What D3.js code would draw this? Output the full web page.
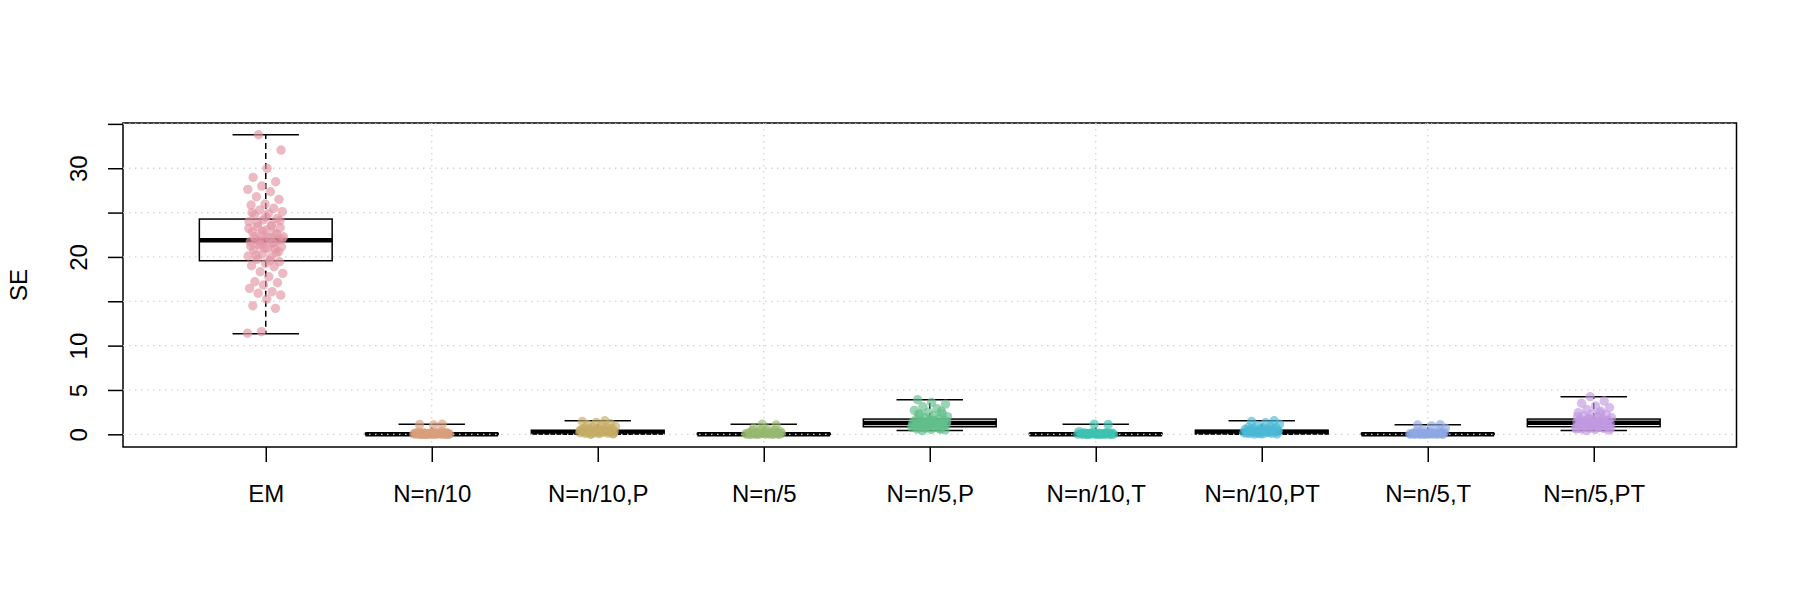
<!DOCTYPE html>
<html>
<head>
<meta charset="utf-8">
<script src="https://cdn.jsdelivr.net/npm/d3@7"></script>
<style>
  body { margin: 0; background: #fff; }
  svg { display: block; }
  text { font-family: 'Liberation Sans', Arial, Helvetica, sans-serif; }
</style>
</head>
<body>
<div id="chart"></div>
<script>
'use strict';

var categories = ['EM', 'N=n/10', 'N=n/10,P', 'N=n/5', 'N=n/5,P', 'N=n/10,T', 'N=n/10,PT', 'N=n/5,T', 'N=n/5,PT'];

// box statistics
var whiskerLow = [11.34, 0, 0, 0, 0.42, 0, 0, 0, 0.42];
var lowerHinge = [19.57, 0, 0.04, 0, 0.85, 0, 0.04, 0, 0.86];
var medians = [21.87, 0.02, 0.24, 0.02, 1.27, 0.02, 0.25, 0.02, 1.30];
var upperHinge = [24.27, 0.1, 0.46, 0.1, 1.72, 0.1, 0.46, 0.1, 1.72];
var whiskerHigh = [33.78, 1.13, 1.53, 1.13, 3.9, 1.13, 1.53, 1.08, 4.24];

var pointColors = ['#E495A5', '#D99E7C', '#C4AC66', '#97B96E', '#62BE8C', '#3DC2B0', '#4CB8D6', '#8DA8E4', '#C29AE0'];

var seEM = [33.78, 32.05, 29.99, 28.97, 28.48, 27.99, 27.62, 27.35, 26.79, 26.49, 25.97, 25.85, 25.48, 25.29,
  25.1, 24.91, 24.73, 24.35, 24.16, 23.97, 23.6, 23.41, 23.29, 23.03, 22.84, 22.66, 22.47, 22.28, 22.16, 21.98,
  21.9, 21.83, 21.71, 21.53, 21.34, 21.15, 20.97, 20.78, 20.47, 20.33, 20.1, 19.95, 19.73, 19.46, 19.28, 19.0,
  18.9, 18.33, 18.15, 17.77, 17.2, 17.09, 16.83, 16.46, 16.08, 15.9, 15.7, 15.25, 14.5, 14.2, 11.57, 11.39,
  19.6, 20.2, 20.6, 21.0, 21.2, 21.6, 21.8, 22.0, 22.1, 22.3, 22.6, 22.9, 23.2, 23.5, 23.8, 24.1, 24.5, 25.0,
  20.9, 21.4];
var seN10 = [0, 0, 0, 0, 0.01, 0.01, 0.02, 0.02, 0.03, 0.03, 0.04, 0.05, 0.05, 0.06, 0.07, 0.08, 0.09, 0.1,
  0.12, 0.14, 0.15, 0.18, 0.2, 0.22, 0.25, 0.3, 0, 0.01, 0.02, 0, 0.03, 0.05, 0.08, 0.11, 0.02, 0.04, 1.05, 1.1, 1.13];
var seN10P = [0.02, 0.05, 0.08, 0.1, 0.12, 0.15, 0.18, 0.2, 0.22, 0.25, 0.27, 0.28, 0.3, 0.32, 0.35, 0.38, 0.4,
  0.42, 0.45, 0.48, 0.5, 0.55, 0.6, 0.65, 0.7, 0.75, 0.8, 0.9, 1.0, 1.1, 1.2, 1.35, 1.45, 1.53, 0.03, 0.1, 0.2,
  0.26, 0.3, 0.36, 0.44, 0.52, 0.6];
var seN5 = [0, 0, 0.01, 0.02, 0.03, 0.05, 0.06, 0.08, 0.1, 0.12, 0.15, 0.18, 0.2, 0.25, 0.3, 0.35, 0.4, 0.45,
  0.5, 0.02, 0.04, 0.07, 0.1, 0.13, 0, 0.01, 0.03, 0.09, 0.6, 0.7, 1.05, 1.13];
var seN5P = [0.42, 0.5, 0.55, 0.6, 0.65, 0.7, 0.75, 0.8, 0.85, 0.9, 0.95, 1.0, 1.05, 1.1, 1.15, 1.2, 1.25, 1.3,
  1.35, 1.4, 1.45, 1.5, 1.55, 1.6, 1.7, 1.8, 1.9, 2.0, 2.1, 2.2, 2.35, 2.5, 2.7, 2.9, 3.1, 3.4, 3.6, 3.9, 0.6,
  0.8, 1.0, 1.2, 1.3, 1.5, 1.7, 0.9, 1.1, 1.25, 1.4, 1.6, 2.3, 2.6];
var seN10T = [0, 0, 0, 0.01, 0.01, 0.02, 0.02, 0.03, 0.04, 0.05, 0.06, 0.07, 0.08, 0.1, 0.12, 0.14, 0.16, 0.2,
  0.24, 0.3, 0, 0.01, 0.03, 0.05, 0.07, 0.09, 0.11, 0.02, 0.04, 0.06, 1.1, 1.13];
var seN10PT = [0.02, 0.04, 0.07, 0.1, 0.12, 0.15, 0.18, 0.2, 0.23, 0.25, 0.27, 0.3, 0.32, 0.35, 0.38, 0.4, 0.43,
  0.46, 0.5, 0.54, 0.58, 0.62, 0.68, 0.74, 0.8, 0.9, 1.0, 1.15, 1.3, 1.45, 1.53, 0.05, 0.15, 0.22, 0.28, 0.34,
  0.42, 0.5, 0.6];
var seN5T = [0, 0, 0.01, 0.01, 0.02, 0.03, 0.04, 0.05, 0.06, 0.08, 0.1, 0.12, 0.14, 0.17, 0.2, 0.25, 0.3, 0.36,
  0, 0.02, 0.04, 0.07, 0.09, 0.11, 0.03, 0.05, 0.5, 0.7, 0.95, 1.05, 1.08];
var seN5PT = [0.42, 0.48, 0.55, 0.6, 0.65, 0.7, 0.75, 0.8, 0.86, 0.9, 0.95, 1.0, 1.05, 1.1, 1.15, 1.2, 1.25,
  1.3, 1.35, 1.4, 1.45, 1.5, 1.55, 1.6, 1.65, 1.72, 1.8, 1.9, 2.0, 2.1, 2.2, 2.3, 2.45, 2.6, 2.8, 3.0, 3.2, 3.5,
  3.75, 4.24, 0.6, 0.8, 1.0, 1.15, 1.3, 1.45, 1.6, 1.75, 0.7, 0.9, 1.1, 1.25, 1.4, 2.0, 2.4];

var groupValues = [seEM, seN10, seN10P, seN5, seN5P, seN10T, seN10PT, seN5T, seN5PT];

var yTicks = [0, 5, 10, 15, 20, 25, 30, 35];
var yTickLabels = [0, 5, 10, 20, 30];
var xGridTicks = [2, 4, 6, 8];

var width = 1800;
var height = 600;
var plotLeft = 123;
var plotRight = 1736.5;
var plotTop = 123;
var plotBottom = 447;
var fontSize = '24px';

var svg = d3.select('#chart').append('svg')
  .attr('width', width)
  .attr('height', height);

var x = d3.scaleLinear()
  .domain([0.14, categories.length + 0.86])
  .range([plotLeft, plotRight]);

var y = d3.scaleLinear()
  .domain([-1.43, 35.1])
  .range([plotBottom, plotTop]);

var unit = x(1) - x(0);
var boxHalf = unit * 0.4;
var capHalf = boxHalf / 2;

// boxes
var boxes = svg.append('g').selectAll('g')
  .data(categories)
  .enter()
  .append('g')
  .attr('transform', function(d, i) {
    return 'translate(' + x(i + 1) + ',0)';
  });

function whisker(sel, fromArr, toArr) {
  sel.append('line')
    .attr('x1', 0)
    .attr('x2', 0)
    .attr('y1', function(d, i) { return y(fromArr[i]); })
    .attr('y2', function(d, i) { return y(toArr[i]); })
    .attr('stroke', 'black')
    .attr('stroke-width', 1.5)
    .attr('stroke-dasharray', '6,4');
}

function cap(sel, arr) {
  sel.append('line')
    .attr('x1', -capHalf)
    .attr('x2', capHalf)
    .attr('y1', function(d, i) { return y(arr[i]); })
    .attr('y2', function(d, i) { return y(arr[i]); })
    .attr('stroke', 'black')
    .attr('stroke-width', 1.5);
}

whisker(boxes, upperHinge, whiskerHigh);
whisker(boxes, lowerHinge, whiskerLow);
cap(boxes, whiskerHigh);
cap(boxes, whiskerLow);

boxes.append('rect')
  .attr('x', -boxHalf)
  .attr('width', boxHalf * 2)
  .attr('y', function(d, i) { return y(upperHinge[i]); })
  .attr('height', function(d, i) { return y(lowerHinge[i]) - y(upperHinge[i]); })
  .attr('fill', 'white')
  .attr('stroke', 'black')
  .attr('stroke-width', 1.5);

boxes.append('line')
  .attr('x1', -boxHalf)
  .attr('x2', boxHalf)
  .attr('y1', function(d, i) { return y(medians[i]); })
  .attr('y2', function(d, i) { return y(medians[i]); })
  .attr('stroke', 'black')
  .attr('stroke-width', 4.5);

// frame
svg.append('rect')
  .attr('x', plotLeft)
  .attr('y', plotTop)
  .attr('width', plotRight - plotLeft)
  .attr('height', plotBottom - plotTop)
  .attr('fill', 'none')
  .attr('stroke', 'black')
  .attr('stroke-width', 1.5);

// axes
var yAxis = d3.axisLeft(y)
  .tickValues(yTicks)
  .tickSize(15)
  .tickSizeOuter(0)
  .tickFormat(function(d) {
    return yTickLabels.indexOf(d) >= 0 ? d : '';
  });

var yg = svg.append('g')
  .attr('transform', 'translate(' + plotLeft + ',0)')
  .call(yAxis);
yg.select('.domain').remove();
yg.selectAll('line').attr('stroke', 'black').attr('stroke-width', 1.5);
yg.selectAll('text')
  .attr('transform', 'rotate(-90)')
  .attr('x', 0)
  .attr('y', -36)
  .attr('dy', 0)
  .attr('text-anchor', 'middle')
  .attr('fill', 'black')
  .style('font-size', fontSize);

var xAxis = d3.axisBottom(x)
  .tickValues(d3.range(1, categories.length + 1))
  .tickSize(15)
  .tickSizeOuter(0)
  .tickFormat(function(d) {
    return categories[d - 1];
  });

var xg = svg.append('g')
  .attr('transform', 'translate(0,' + plotBottom + ')')
  .call(xAxis);
xg.select('.domain').remove();
xg.selectAll('line').attr('stroke', 'black').attr('stroke-width', 1.5);
xg.selectAll('text')
  .attr('y', 55)
  .attr('dy', 0)
  .attr('fill', 'black')
  .style('font-size', fontSize);

svg.append('text')
  .attr('transform', 'translate(27,' + ((plotTop + plotBottom) / 2) + ') rotate(-90)')
  .attr('text-anchor', 'middle')
  .style('font-size', fontSize)
  .text('SE');

// grid
var grid = svg.append('g')
  .attr('stroke', '#D3D3D3')
  .attr('stroke-width', 1.3)
  .attr('stroke-dasharray', '1.5,4.5');

grid.selectAll('.hgrid')
  .data(yTicks)
  .enter()
  .append('line')
  .attr('x1', plotLeft)
  .attr('x2', plotRight)
  .attr('y1', function(d) { return y(d); })
  .attr('y2', function(d) { return y(d); });

grid.selectAll('.vgrid')
  .data(xGridTicks)
  .enter()
  .append('line')
  .attr('x1', function(d) { return x(d); })
  .attr('x2', function(d) { return x(d); })
  .attr('y1', plotTop)
  .attr('y2', plotBottom);

// jittered points (deterministic spread across the strip)
function jitterOffset(i) {
  return ((i * 0.618034 + 0.3) % 1 - 0.5) * 0.22;
}

var strips = svg.append('g').selectAll('g')
  .data(groupValues)
  .enter()
  .append('g')
  .attr('fill', function(d, i) { return pointColors[i]; })
  .attr('fill-opacity', 0.65);

strips.each(function(values, gi) {
  d3.select(this).selectAll('circle')
    .data(values)
    .enter()
    .append('circle')
    .attr('cx', function(v, i) { return x(gi + 1 + jitterOffset(i)); })
    .attr('cy', function(v) { return y(v); })
    .attr('r', 4.7);
});
</script>
</body>
</html>
